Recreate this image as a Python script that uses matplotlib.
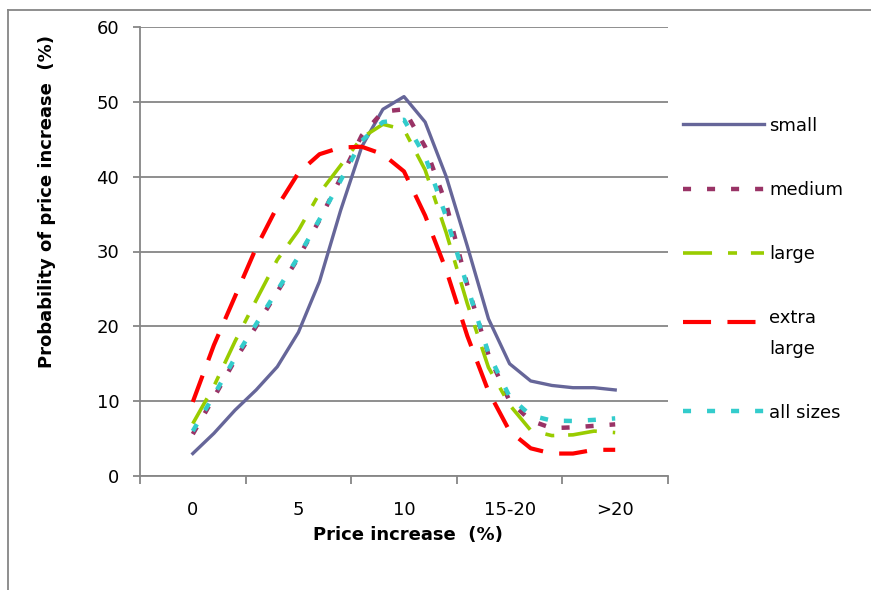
import numpy as np
import matplotlib.pyplot as plt
from matplotlib.lines import Line2D
from matplotlib.legend_handler import HandlerLine2D

plt.rcParams['font.family'] = ['DejaVu Sans']
plt.rcParams['lines.scale_dashes'] = False

# curve points along the price increase axis, 5 steps per labelled category
steps = np.arange(21)
tick_steps = [0, 5, 10, 15, 20]
tick_labels = ['0', '5', '10', '15-20', '>20']

small = [3.0, 5.7, 8.8, 11.5, 14.6, 19.2, 26.0, 35.5, 44.0, 49.0, 50.7,
         47.3, 40.0, 30.7, 21.0, 15.0, 12.7, 12.1, 11.8, 11.8, 11.5]
medium = [5.6, 10.5, 15.5, 20.0, 24.6, 29.2, 34.2, 39.8, 45.5, 48.7, 49.0,
          44.0, 36.3, 25.5, 16.2, 10.0, 7.4, 6.4, 6.5, 6.7, 6.9]
large = [7.0, 12.0, 18.0, 23.5, 28.9, 32.8, 37.8, 41.5, 45.2, 47.0, 46.3,
         40.9, 32.5, 23.0, 14.5, 9.5, 6.1, 5.4, 5.5, 6.0, 5.8]
extra_large = [9.9, 17.5, 24.0, 30.5, 36.0, 40.5, 43.0, 43.9, 44.0, 43.0, 40.7,
               34.8, 27.5, 18.7, 11.3, 6.0, 3.7, 3.0, 3.0, 3.5, 3.5]
all_sizes = [6.0, 10.8, 15.8, 20.3, 24.8, 29.3, 34.3, 39.5, 44.8, 47.3, 47.6,
             42.7, 34.6, 25.3, 16.4, 10.6, 8.1, 7.4, 7.35, 7.5, 7.7]

grey = '#868686'


class FirstLineHandler(HandlerLine2D):
    # puts the legend sample level with the first line of a two-line label
    def create_artists(self, legend, orig_handle, xdescent, ydescent,
                       width, height, fontsize, trans):
        return super().create_artists(legend, orig_handle, xdescent, ydescent - 17,
                                      width, height, fontsize, trans)


fig = plt.figure(figsize=(8.71, 5.90), dpi=100)
ax = fig.add_axes([140/871, 1 - 476/590, 528/871, 449/590])

l1, = ax.plot(steps, small, color='#666699', lw=2.4, solid_joinstyle='round')
l2, = ax.plot(steps, medium, color='#993366', lw=3.2, dashes=(5.8, 11.5))
l3, = ax.plot(steps, large, color='#99CC00', lw=2.6, dashes=(20.9, 11.5, 6.5, 10))
l4, = ax.plot(steps, extra_large, color='#FF0000', lw=3.0, dashes=(20.2, 11.8))
l5, = ax.plot(steps, all_sizes, color='#33CCCC', lw=3.2, dashes=(5.8, 11.5))

ax.set_xlim(-2.5, 22.5)
ax.set_ylim(0, 60)
ax.set_yticks(range(0, 61, 10))
ax.set_xticks(np.arange(-2.5, 23, 5))
ax.set_xticklabels([])
ax.set_xticks(tick_steps, minor=True)
ax.set_xticklabels(tick_labels, minor=True)

ax.yaxis.grid(True, color=grey, lw=1.3)
ax.set_axisbelow(True)
for s in ['top', 'right']:
    ax.spines[s].set_visible(False)
for s in ['left', 'bottom']:
    ax.spines[s].set_color(grey)
    ax.spines[s].set_linewidth(1.3)

ax.tick_params(axis='y', direction='out', length=5, width=1.3, color=grey,
               pad=10, labelsize=13)
ax.tick_params(axis='x', which='major', direction='out', length=6, width=1.3,
               color=grey)
ax.tick_params(axis='x', which='minor', length=0, pad=18, labelsize=13)

ax.set_ylabel('Probability of price increase  (%)', fontweight='bold', fontsize=13)
ax.yaxis.set_label_coords(-0.16, 0.612)
ax.set_xlabel('Price increase  (%)', fontweight='bold', fontsize=13)
ax.xaxis.set_label_coords(0.508, -0.112)

leg = ax.legend([l1, l2, l3, l4, l5],
                ['small', 'medium', 'large', 'extra\nlarge', 'all sizes'],
                handler_map={l4: FirstLineHandler()},
                loc='upper left', bbox_to_anchor=(1.028, 0.80), frameon=False,
                fontsize=13, handlelength=4.5, handletextpad=0.3,
                labelspacing=2.55, borderaxespad=0, borderpad=0)
leg.get_texts()[3].set_linespacing(1.9)

# chart area border (only left and top edges are visible)
fig.add_artist(Line2D([8/871, 8/871], [-0.01, 1 - 10/590], transform=fig.transFigure,
                      color=grey, lw=1.3))
fig.add_artist(Line2D([8/871, 1.01], [1 - 10/590, 1 - 10/590], transform=fig.transFigure,
                      color=grey, lw=1.3))

fig.savefig('out.png', dpi=100)
